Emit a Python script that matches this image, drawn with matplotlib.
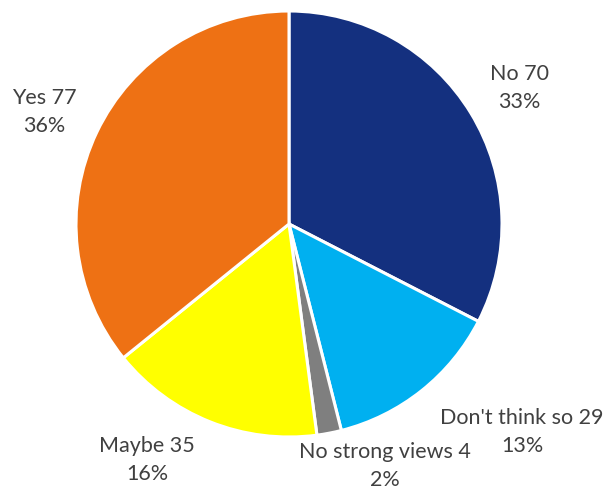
import matplotlib.pyplot as plt

categories = ["No", "Don't think so", "No strong views", "Maybe", "Yes"]
counts = [70, 29, 4, 35, 77]
colors = ["#14307F", "#00B0F0", "#7F7F7F", "#FFFF00", "#EE7114"]

# label anchor points (pixels from the top-left of the figure)
label_xy = [(519, 88), (522, 432), (385, 466), (147, 460), (44, 112)]

W, H = 606, 498
fig = plt.figure(figsize=(W / 100, H / 100), dpi=100)
ax = fig.add_axes([0, 0, 1, 1])

cx, cy, r = 289, H - 224, 213
ax.pie(counts, colors=colors, startangle=90, counterclock=False,
       center=(cx, cy), radius=r, frame=True,
       wedgeprops=dict(edgecolor="white", linewidth=2.2))

total = sum(counts)
for name, n, (x, y) in zip(categories, counts, label_xy):
    pct = round(100 * n / total)
    ax.text(x, H - y, f"{name} {n}\n{pct}%", ha="center", va="center",
            fontsize=15.5, color="#404040", family="Lato", linespacing=1.45)

ax.set_xlim(0, W)
ax.set_ylim(0, H)
ax.set_aspect("equal")
ax.axis("off")

fig.savefig("out.png", dpi=100)
